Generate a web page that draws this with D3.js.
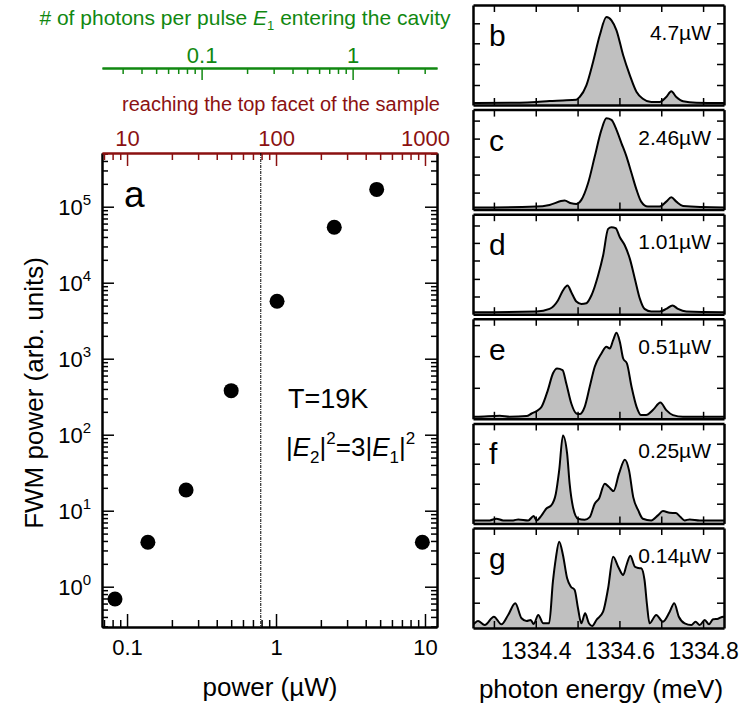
<!DOCTYPE html>
<html>
<head>
<meta charset="utf-8">
<script src="https://cdn.jsdelivr.net/npm/d3@7"></script>
<style>
body { margin: 0; background: #fff; }
svg { display: block; }
text { font-family: "Liberation Sans", Arial, sans-serif; }
</style>
</head>
<body>
<script>
// panel a : FWM power vs excitation power
const powerUW = [0.083, 0.138, 0.249, 0.50, 1.016, 2.46, 4.74, 9.6];
const fwmPower = [0.69, 3.84, 18.7, 380, 5700, 53600, 169000, 3.84];
const thresholdUW = 0.79;
const powerTicks = [0.1, 1, 10];
const facetTicks = [10, 100, 1000];
const photonTicks = [0.1, 1];
const fwmExponents = [0, 1, 2, 3, 4, 5];

// panels b-g : spectra (energy in meV, intensity normalised to panel height)
const panelLetters = ["b", "c", "d", "e", "f", "g"];
const panelPowers = ["4.7µW", "2.46µW", "1.01µW", "0.51µW", "0.25µW", "0.14µW"];
const energyTicks = [1334.3, 1334.4, 1334.5, 1334.6, 1334.7, 1334.8];
const energyLabels = [1334.4, 1334.6, 1334.8];
const levelTicks = [
  [0.20, 0.41, 0.617, 0.817],
  [0.17, 0.35, 0.53, 0.71, 0.89],
  [0.177, 0.353, 0.537, 0.713, 0.887],
  [0.31, 0.627, 0.937],
  [0.197, 0.397, 0.597, 0.797],
  [0.253, 0.503, 0.753]
];

const spectrumB = [[1334.242,0.02],[1334.258,0.02],[1334.362,0.023],[1334.402,0.03],[1334.433,0.04],[1334.465,0.045],[1334.497,0.053],[1334.505,0.08],[1334.521,0.197],[1334.537,0.43],[1334.553,0.697],[1334.569,0.88],[1334.581,0.847],[1334.593,0.747],[1334.609,0.497],[1334.625,0.297],[1334.641,0.13],[1334.656,0.063],[1334.676,0.03],[1334.696,0.03],[1334.712,0.08],[1334.724,0.137],[1334.736,0.08],[1334.752,0.037],[1334.784,0.023],[1334.856,0.02]];
const spectrumC = [[1334.242,0.02],[1334.258,0.02],[1334.402,0.03],[1334.433,0.047],[1334.469,0.09],[1334.485,0.063],[1334.497,0.057],[1334.509,0.097],[1334.525,0.263],[1334.541,0.53],[1334.557,0.797],[1334.569,0.913],[1334.581,0.897],[1334.593,0.797],[1334.605,0.663],[1334.617,0.53],[1334.629,0.363],[1334.641,0.197],[1334.652,0.08],[1334.668,0.03],[1334.696,0.03],[1334.712,0.08],[1334.724,0.123],[1334.736,0.08],[1334.752,0.037],[1334.856,0.02]];
const spectrumD = [[1334.242,0.02],[1334.258,0.02],[1334.402,0.027],[1334.433,0.053],[1334.453,0.137],[1334.465,0.237],[1334.476,0.287],[1334.485,0.22],[1334.497,0.127],[1334.509,0.103],[1334.521,0.11],[1334.533,0.187],[1334.549,0.387],[1334.561,0.587],[1334.573,0.853],[1334.581,0.87],[1334.591,0.86],[1334.601,0.77],[1334.613,0.687],[1334.625,0.553],[1334.637,0.353],[1334.649,0.153],[1334.660,0.053],[1334.676,0.027],[1334.696,0.027],[1334.712,0.053],[1334.727,0.087],[1334.740,0.053],[1334.760,0.027],[1334.856,0.02]];
const spectrumE = [[1334.242,0.02],[1334.258,0.02],[1334.314,0.03],[1334.338,0.02],[1334.378,0.027],[1334.390,0.053],[1334.402,0.077],[1334.414,0.12],[1334.429,0.287],[1334.441,0.453],[1334.451,0.503],[1334.464,0.487],[1334.473,0.353],[1334.485,0.153],[1334.497,0.053],[1334.505,0.047],[1334.517,0.12],[1334.529,0.32],[1334.541,0.52],[1334.557,0.653],[1334.569,0.72],[1334.577,0.703],[1334.585,0.787],[1334.593,0.86],[1334.601,0.77],[1334.609,0.603],[1334.618,0.553],[1334.629,0.32],[1334.641,0.12],[1334.652,0.037],[1334.664,0.037],[1334.680,0.087],[1334.698,0.163],[1334.712,0.087],[1334.728,0.037],[1334.752,0.02],[1334.856,0.02]];
const spectrumF = [[1334.242,0.03],[1334.258,0.03],[1334.290,0.03],[1334.306,0.047],[1334.322,0.03],[1334.346,0.03],[1334.358,0.04],[1334.382,0.03],[1334.395,0.073],[1334.402,0.03],[1334.414,0.08],[1334.425,0.147],[1334.437,0.18],[1334.448,0.297],[1334.456,0.53],[1334.465,0.88],[1334.475,0.697],[1334.481,0.397],[1334.489,0.163],[1334.501,0.047],[1334.517,0.037],[1334.529,0.063],[1334.541,0.197],[1334.551,0.247],[1334.565,0.397],[1334.575,0.363],[1334.586,0.323],[1334.599,0.497],[1334.613,0.637],[1334.623,0.53],[1334.633,0.263],[1334.645,0.13],[1334.656,0.047],[1334.676,0.03],[1334.692,0.08],[1334.704,0.123],[1334.720,0.107],[1334.735,0.103],[1334.746,0.063],[1334.756,0.03],[1334.768,0.04],[1334.792,0.03],[1334.856,0.03]];
const spectrumG = [[1334.242,0.03],[1334.250,0.037],[1334.262,0.07],[1334.278,0.03],[1334.300,0.113],[1334.318,0.037],[1334.334,0.13],[1334.351,0.247],[1334.366,0.097],[1334.378,0.07],[1334.388,0.08],[1334.395,0.04],[1334.406,0.13],[1334.418,0.047],[1334.432,0.047],[1334.441,0.463],[1334.448,0.697],[1334.456,0.863],[1334.465,0.73],[1334.475,0.497],[1334.484,0.413],[1334.493,0.38],[1334.501,0.197],[1334.509,0.047],[1334.518,0.147],[1334.527,0.047],[1334.535,0.02],[1334.545,0.08],[1334.561,0.163],[1334.573,0.397],[1334.585,0.713],[1334.597,0.613],[1334.609,0.53],[1334.617,0.63],[1334.626,0.723],[1334.637,0.613],[1334.645,0.6],[1334.652,0.597],[1334.660,0.48],[1334.666,0.23],[1334.672,0.047],[1334.688,0.13],[1334.704,0.063],[1334.720,0.16],[1334.731,0.247],[1334.742,0.113],[1334.756,0.047],[1334.772,0.03],[1334.782,0.063],[1334.792,0.03],[1334.804,0.08],[1334.814,0.037],[1334.824,0.087],[1334.836,0.093],[1334.848,0.113],[1334.856,0.1]];
const spectra = [spectrumB, spectrumC, spectrumD, spectrumE, spectrumF, spectrumG];

const green = "#118811";
const red = "#8b1111";

const svg = d3.select("body").append("svg")
    .attr("width", 740)
    .attr("height", 715);

// ---------- panel a ----------
const L = 102, R = 437, T = 153, B = 627;
const x = d3.scaleLog().domain([0.0679, 12.04]).range([L, R]);
const xTop = d3.scaleLog().domain([6.79, 1204]).range([L, R]);
const xPh = d3.scaleLog().domain([0.0219, 3.62]).range([L, R]);
const y = d3.scaleLog().domain([0.295, 5.09e5]).range([B, T]);

const isMajor = v => Math.abs(Math.log10(v) - Math.round(Math.log10(v))) < 1e-6;
const minorOf = s => s.ticks().filter(v => !isMajor(v));

function styleAxis(g, color, w, fs) {
  g.select(".domain").attr("stroke", color).attr("stroke-width", w);
  g.selectAll(".tick line").attr("stroke", color).attr("stroke-width", 1.5);
  g.selectAll(".tick text").attr("fill", color)
    .style("font-family", '"Liberation Sans", Arial, sans-serif')
    .style("font-size", (fs || 22) + "px");
}

// bottom axis
svg.append("g").attr("transform", `translate(0,${B})`)
  .call(d3.axisBottom(x).tickValues(minorOf(x)).tickSize(-7).tickSizeOuter(0).tickFormat(""))
  .call(g => styleAxis(g, "#000", 2));
svg.append("g").attr("transform", `translate(0,${B})`)
  .call(d3.axisBottom(x).tickValues(powerTicks).tickSize(-13).tickSizeOuter(0).tickPadding(12).tickFormat(d => d))
  .call(g => styleAxis(g, "#000", 2));

// left / right axes
const yMinor = minorOf(y);
const yMajor = fwmExponents.map(e => Math.pow(10, e));
svg.append("g").attr("transform", `translate(${L},0)`)
  .call(d3.axisLeft(y).tickValues(yMinor).tickSize(-6).tickSizeOuter(0).tickFormat(""))
  .call(g => styleAxis(g, "#000", 2));
svg.append("g").attr("transform", `translate(${L},0)`)
  .call(d3.axisLeft(y).tickValues(yMajor).tickSize(-12).tickSizeOuter(0).tickFormat(""))
  .call(g => styleAxis(g, "#000", 2));
svg.append("g").attr("transform", `translate(${R},0)`)
  .call(d3.axisRight(y).tickValues(yMinor).tickSize(-6).tickSizeOuter(0).tickFormat(""))
  .call(g => styleAxis(g, "#000", 2));
svg.append("g").attr("transform", `translate(${R},0)`)
  .call(d3.axisRight(y).tickValues(yMajor).tickSize(-12).tickSizeOuter(0).tickFormat(""))
  .call(g => styleAxis(g, "#000", 2));

const yLab = svg.append("g").selectAll("text")
  .data(fwmExponents).enter().append("text")
  .attr("x", 91)
  .attr("y", e => y(Math.pow(10, e)) + 8)
  .attr("text-anchor", "end")
  .style("font-size", "22px");
yLab.append("tspan").text("10");
yLab.append("tspan").attr("dy", -10).style("font-size", "15px").text(e => e);

// top axis (red) : power reaching the top facet
svg.append("g").attr("transform", `translate(0,${T})`)
  .call(d3.axisTop(xTop).tickValues(minorOf(xTop)).tickSize(-7).tickSizeOuter(0).tickFormat(""))
  .call(g => styleAxis(g, red, 2));
svg.append("g").attr("transform", `translate(0,${T})`)
  .call(d3.axisTop(xTop).tickValues(facetTicks).tickSize(-13).tickSizeOuter(0).tickPadding(7).tickFormat(d => d))
  .call(g => styleAxis(g, red, 2));

svg.append("text")
  .attr("x", 281).attr("y", 111)
  .attr("text-anchor", "middle")
  .attr("fill", red)
  .style("font-size", "20px")
  .text("reaching the top facet of the sample");

// green axis : photons per pulse
const GY = 68;
svg.append("g").attr("transform", `translate(0,${GY})`)
  .call(d3.axisTop(xPh).tickValues(minorOf(xPh)).tickSize(-6).tickSizeOuter(0).tickFormat(""))
  .call(g => styleAxis(g, green, 2));
svg.append("g").attr("transform", `translate(0,${GY})`)
  .call(d3.axisTop(xPh).tickValues(photonTicks).tickSize(-12).tickSizeOuter(0).tickPadding(5).tickFormat(d => d))
  .call(g => styleAxis(g, green, 2));

const gt = svg.append("text")
  .attr("x", 245).attr("y", 25)
  .attr("text-anchor", "middle")
  .attr("fill", green)
  .style("font-size", "21px");
gt.append("tspan").text("# of photons per pulse ");
gt.append("tspan").style("font-style", "italic").text("E");
gt.append("tspan").attr("dy", 5).style("font-size", "13px").text("1");
gt.append("tspan").attr("dy", -5).text(" entering the cavity");

// threshold line
svg.append("line")
  .attr("x1", x(thresholdUW)).attr("x2", x(thresholdUW))
  .attr("y1", T).attr("y2", B)
  .attr("stroke", "#000").attr("stroke-width", 1)
  .attr("stroke-dasharray", "3,1,1,1");

// data points
svg.append("g").selectAll("circle")
  .data(powerUW).enter().append("circle")
  .attr("cx", d => x(d))
  .attr("cy", (d, i) => y(fwmPower[i]))
  .attr("r", 7.5)
  .attr("fill", "#000");

svg.append("text").attr("x", 124).attr("y", 207).style("font-size", "37px").text("a");
svg.append("text").attr("x", 288).attr("y", 408).style("font-size", "27px").text("T=19K");

const eq = svg.append("text").attr("x", 286).attr("y", 456).style("font-size", "26px");
eq.append("tspan").text("|");
eq.append("tspan").style("font-style", "italic").text("E");
eq.append("tspan").attr("dy", 7).style("font-size", "17px").text("2");
eq.append("tspan").attr("dy", -7).text("|");
eq.append("tspan").attr("dy", -12).style("font-size", "17px").text("2");
eq.append("tspan").attr("dy", 12).text("=3|");
eq.append("tspan").style("font-style", "italic").text("E");
eq.append("tspan").attr("dy", 7).style("font-size", "17px").text("1");
eq.append("tspan").attr("dy", -7).text("|");
eq.append("tspan").attr("dy", -12).style("font-size", "17px").text("2");

svg.append("text")
  .attr("transform", "translate(43,393) rotate(-90)")
  .attr("text-anchor", "middle")
  .style("font-size", "26px")
  .text("FWM power (arb. units)");

svg.append("text")
  .attr("x", 270).attr("y", 696)
  .attr("text-anchor", "middle")
  .style("font-size", "26px")
  .text("power (µW)");

// ---------- panels b-g ----------
const SL = 473, SR = 724, PH = 100, PITCH = 104.6, PT0 = 5;
const xs = d3.scaleLinear().domain([1334.25, 1334.85]).range([SL, SR]);

spectra.forEach((spec, i) => {
  const top = PT0 + i * PITCH, bot = top + PH;
  const ys = d3.scaleLinear().domain([0, 1]).range([bot, top]);
  const g = svg.append("g");

  g.append("clipPath").attr("id", "clip" + i)
    .append("rect").attr("x", SL).attr("y", top).attr("width", SR - SL).attr("height", PH);

  const area = d3.area()
    .x(d => xs(d[0]))
    .y0(ys(0))
    .y1(d => ys(d[1]))
    .curve(d3.curveMonotoneX);
  const line = d3.line()
    .x(d => xs(d[0]))
    .y(d => ys(d[1]))
    .curve(d3.curveMonotoneX);

  g.append("path").datum(spec)
    .attr("clip-path", `url(#clip${i})`)
    .attr("d", area)
    .attr("fill", "#c0c0c0");
  g.append("path").datum(spec)
    .attr("clip-path", `url(#clip${i})`)
    .attr("d", line)
    .attr("fill", "none")
    .attr("stroke", "#000")
    .attr("stroke-width", 2);

  g.append("g").attr("transform", `translate(0,${top})`)
    .call(d3.axisTop(xs).tickValues(energyTicks).tickSize(-7).tickSizeOuter(0).tickFormat(""))
    .call(a => styleAxis(a, "#000", 2.5));
  g.append("g").attr("transform", `translate(0,${bot})`)
    .call(d3.axisBottom(xs).tickValues(energyTicks).tickSize(-7).tickSizeOuter(0).tickFormat(""))
    .call(a => styleAxis(a, "#000", 2.5));
  g.append("g").attr("transform", `translate(${SL},0)`)
    .call(d3.axisLeft(ys).tickValues(levelTicks[i]).tickSize(-7).tickSizeOuter(0).tickFormat(""))
    .call(a => styleAxis(a, "#000", 2.5));
  g.append("g").attr("transform", `translate(${SR},0)`)
    .call(d3.axisRight(ys).tickValues(levelTicks[i]).tickSize(-7).tickSizeOuter(0).tickFormat(""))
    .call(a => styleAxis(a, "#000", 2.5));

  g.append("text").attr("x", 489).attr("y", top + 41)
    .style("font-size", "30px").text(panelLetters[i]);
  g.append("text").attr("x", 711).attr("y", top + 35)
    .attr("text-anchor", "end")
    .style("font-size", "21px").text(panelPowers[i]);

  if (i === spectra.length - 1) {
    g.append("g").attr("transform", `translate(0,${bot})`)
      .call(d3.axisBottom(xs).tickValues(energyLabels).tickSize(0).tickPadding(15).tickFormat(d3.format(".1f")))
      .call(a => { styleAxis(a, "#000", 0, 23); a.select(".domain").remove(); });
  }
});

svg.append("text")
  .attr("x", 601).attr("y", 698)
  .attr("text-anchor", "middle")
  .style("font-size", "26px")
  .text("photon energy (meV)");
</script>
</body>
</html>
